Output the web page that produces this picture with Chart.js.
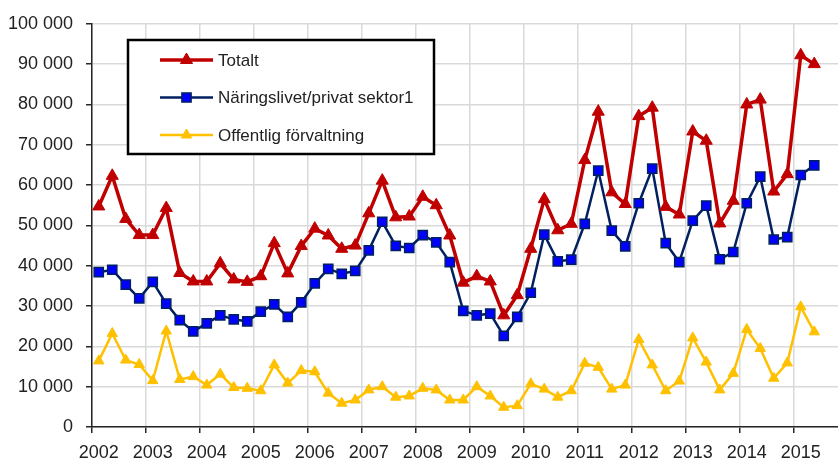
<!DOCTYPE html>
<html>
<head>
<meta charset="utf-8">
<title>Totalt, näringslivet och offentlig förvaltning</title>
<script src="https://cdn.jsdelivr.net/npm/chart.js@4/dist/chart.umd.min.js"></script>
<style>
  html, body { margin: 0; padding: 0; background: #fff; overflow: hidden; }
  #wrap { width: 856px; height: 463px; }
</style>
</head>
<body>
<div id="wrap"><canvas id="c" width="856" height="463"></canvas></div>
<script>
// quarterly series 2002 K1 .. 2015 K2 (last two quarters of 2015 are empty)
const years = ['2002', '2003', '2004', '2005', '2006', '2007', '2008', '2009',
  '2010', '2011', '2012', '2013', '2014', '2015'];
const quarters = ['K1', 'K2', 'K3', 'K4'];

const totalt = [
  54700, 62300, 51600, 47600, 47600, 54300, 38200, 36100,
  36100, 40600, 36600, 36000, 37400, 45600, 38100, 44900,
  49200, 47500, 44200, 45000, 53000, 61100, 52000, 52200,
  57100, 55000, 47500, 35800, 37400, 36100, 27700, 32700,
  44200, 56500, 48800, 50400, 66200, 78200, 58200, 55300,
  77100, 79200, 54600, 52700, 73300, 71000, 50500, 56100,
  80000, 81200, 58400, 62700, 92200, 90000, null, null
];
const naringsliv = [
  38400, 39000, 35300, 31900, 36000, 30600, 26500, 23700,
  25700, 27700, 26700, 26200, 28600, 30400, 27300, 30900,
  35600, 39200, 38000, 38700, 43800, 50900, 44900, 44400,
  47600, 45800, 40900, 28800, 27700, 28100, 22600, 27300,
  33300, 47700, 41100, 41500, 50400, 63600, 48700, 44800,
  55500, 64100, 45600, 40900, 51200, 54900, 41600, 43400,
  55500, 62100, 46500, 47100, 62500, 64900, null, null
];
const offentlig = [
  16400, 23200, 16600, 15500, 11500, 23800, 11800, 12500,
  10400, 13100, 9800, 9600, 9000, 15400, 10900, 14000,
  13700, 8400, 5900, 6700, 9200, 10000, 7400, 7700,
  9600, 9200, 6700, 6700, 10000, 7700, 4900, 5300,
  10700, 9400, 7400, 9000, 15800, 14800, 9400, 10400,
  21700, 15400, 9000, 11400, 22100, 16100, 9200, 13300,
  24200, 19500, 12100, 15900, 29800, 23600, null, null
];
const seriesNames = ['Totalt', 'Näringslivet/privat sektor1', 'Offentlig förvaltning'];

const labels = [];
years.forEach(y => quarters.forEach(q => labels.push(y + ' ' + q)));

const FONT = '"Liberation Sans", Arial, sans-serif';
const GRID = '#d9d9d9';
const AXIS = '#262626';

function fmt(v) {
  return String(v).replace(/\B(?=(\d{3})+(?!\d))/g, ' ');
}

// legend drawn as a framed box inside the plot, like the original
const boxLegend = {
  id: 'boxLegend',
  afterDraw(chart) {
    const ctx = chart.ctx;
    const x0 = 128, y0 = 40, w = 306, h = 114;
    ctx.save();
    ctx.fillStyle = '#fff';
    ctx.fillRect(x0, y0, w, h);
    ctx.lineWidth = 2.5;
    ctx.strokeStyle = '#000';
    ctx.strokeRect(x0, y0, w, h);
    chart.data.datasets.forEach((ds, i) => {
      const y = 60 + i * 37.5;
      ctx.strokeStyle = ds.borderColor;
      ctx.lineWidth = ds.borderWidth;
      ctx.beginPath();
      ctx.moveTo(160, y);
      ctx.lineTo(213, y);
      ctx.stroke();
      ctx.fillStyle = ds.pointBackgroundColor;
      ctx.strokeStyle = ds.pointBorderColor;
      ctx.lineWidth = ds.pointBorderWidth;
      Chart.helpers.drawPoint(ctx, {
        pointStyle: ds.pointStyle, radius: ds.pointRadius, rotation: 0, borderWidth: ds.pointBorderWidth
      }, 186.5, y);
      ctx.fillStyle = '#222';
      ctx.font = '17px ' + FONT;
      ctx.textBaseline = 'middle';
      ctx.textAlign = 'left';
      ctx.fillText(ds.label, 218, y + 1);
    });
    ctx.restore();
  }
};

new Chart(document.getElementById('c'), {
  type: 'line',
  data: {
    labels: labels,
    datasets: [
      {
        label: seriesNames[0], data: totalt,
        borderColor: '#c00000', borderWidth: 3.5,
        pointStyle: 'triangle', pointRadius: 7, pointBorderWidth: 1,
        pointBackgroundColor: '#c00000', pointBorderColor: '#c00000'
      },
      {
        label: seriesNames[1], data: naringsliv,
        borderColor: '#002060', borderWidth: 2.5,
        pointStyle: 'rect', pointRadius: 6.5, pointBorderWidth: 1.5,
        pointBackgroundColor: '#0000ff', pointBorderColor: '#002060'
      },
      {
        label: seriesNames[2], data: offentlig,
        borderColor: '#ffc000', borderWidth: 2.5,
        pointStyle: 'triangle', pointRadius: 6, pointBorderWidth: 1,
        pointBackgroundColor: '#ffc000', pointBorderColor: '#ffc000'
      }
    ]
  },
  options: {
    responsive: false,
    animation: false,
    spanGaps: false,
    layout: { padding: { top: 22, right: 2, bottom: 0, left: 0 } },
    elements: { line: { tension: 0 } },
    plugins: { legend: { display: false }, tooltip: { enabled: false } },
    scales: {
      x: {
        type: 'category',
        offset: true,
        grid: {
          offset: true,
          lineWidth: 1.5,
          tickLength: 6,
          color: ctx => (ctx.index % 4 === 0 ? GRID : 'rgba(0,0,0,0)'),
          tickColor: ctx => (ctx.index % 4 === 0 ? AXIS : 'rgba(0,0,0,0)')
        },
        border: { color: AXIS, width: 1.5 },
        ticks: {
          autoSkip: false, maxRotation: 0, padding: 9,
          color: '#222', font: { family: FONT, size: 18 },
          callback: (v, i) => (i % 4 === 0 ? years[i / 4] : '')
        },
        afterFit: s => { s.height = 36; }
      },
      y: {
        min: 0, max: 100000,
        grid: { color: GRID, lineWidth: 1.5, tickLength: 6, tickColor: AXIS },
        border: { color: AXIS, width: 1.5 },
        ticks: {
          stepSize: 10000, padding: 13,
          color: '#222', font: { family: FONT, size: 18 },
          callback: v => fmt(v)
        },
        afterFit: s => { s.width = 92; }
      }
    }
  },
  plugins: [boxLegend]
});
</script>
</body>
</html>
